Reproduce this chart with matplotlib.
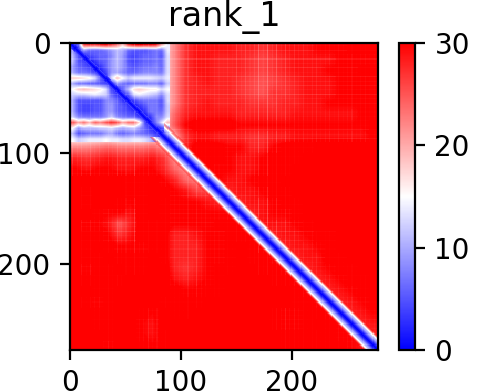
import numpy as np
import matplotlib
matplotlib.use('Agg')
import matplotlib.pyplot as plt

n_res = 278
x_ticks = [0, 100, 200]
y_ticks = [0, 100, 200]
cbar_ticks = [0, 10, 20, 30]
title = 'rank_1'

# whole map, one value per 10 residues (read by eye, 30+ is saturated red)
far_grid = [
    [30, 30, 30, 30, 30, 30, 30, 30, 17, 22, 27, 29, 29, 29, 29, 28, 28, 27, 28, 29, 29, 29, 30, 30, 30, 31, 31, 31],
    [30, 30, 30, 30, 30, 30, 30, 30, 17, 22, 27, 29, 29, 28, 28, 28, 27, 26, 27, 28, 29, 29, 29, 29, 30, 30, 30, 30],
    [30, 30, 30, 30, 30, 30, 30, 30, 17, 22, 27, 29, 29, 28, 28, 28, 27, 26, 27, 28, 29, 29, 29, 30, 30, 30, 31, 31],
    [30, 30, 30, 30, 30, 30, 30, 30, 17, 22, 27, 28, 29, 28, 28, 27, 26, 25, 26, 27, 28, 29, 29, 29, 30, 30, 30, 30],
    [30, 30, 30, 30, 30, 30, 30, 30, 17, 22, 27, 28, 28, 28, 28, 27, 26, 25, 27, 27, 28, 29, 29, 29, 30, 30, 30, 30],
    [30, 30, 30, 30, 30, 30, 30, 30, 17, 22, 27, 28, 29, 28, 28, 28, 27, 27, 27, 28, 28, 29, 29, 30, 30, 30, 30, 30],
    [30, 30, 30, 30, 30, 30, 30, 30, 18, 24, 28, 29, 29, 29, 29, 28, 28, 28, 28, 28, 29, 29, 29, 29, 29, 29, 30, 30],
    [30, 30, 30, 30, 30, 30, 30, 30, 18, 25, 30, 31, 31, 31, 31, 30, 30, 30, 30, 30, 30, 30, 30, 30, 30, 30, 30, 31],
    [14, 14, 14, 15, 14, 14, 14, 16, 18, 20, 27, 29, 29, 28, 28, 28, 27, 27, 28, 28, 29, 29, 29, 29, 29, 29, 29, 30],
    [22, 22, 23, 24, 23, 23, 23, 24, 22, 22, 28, 31, 31, 31, 30, 30, 28, 28, 30, 31, 31, 31, 32, 32, 32, 32, 32, 32],
    [28, 27, 28, 29, 28, 28, 28, 29, 27, 22, 27, 31, 31, 31, 30, 29, 29, 30, 31, 31, 31, 32, 32, 32, 32, 32, 32, 32],
    [30, 29, 30, 30, 29, 29, 30, 30, 28, 24, 22, 28, 31, 30, 30, 29, 29, 30, 31, 31, 32, 32, 32, 32, 32, 32, 32, 32],
    [32, 32, 32, 32, 32, 31, 31, 32, 30, 28, 24, 23, 29, 30, 29, 29, 30, 31, 31, 32, 32, 32, 32, 32, 32, 32, 32, 32],
    [32, 31, 32, 32, 32, 31, 31, 32, 32, 30, 29, 26, 26, 29, 28, 29, 29, 30, 31, 31, 32, 32, 32, 32, 32, 32, 32, 32],
    [32, 31, 32, 32, 31, 30, 31, 32, 31, 30, 30, 30, 29, 28, 29, 28, 29, 29, 30, 31, 31, 32, 32, 32, 32, 32, 32, 32],
    [32, 32, 31, 30, 30, 29, 31, 32, 31, 30, 30, 30, 30, 30, 30, 30, 28, 29, 30, 30, 31, 32, 32, 32, 32, 32, 32, 32],
    [32, 30, 30, 29, 25, 28, 31, 31, 31, 30, 30, 30, 30, 31, 31, 31, 29, 29, 29, 29, 30, 31, 32, 32, 32, 32, 32, 32],
    [32, 31, 31, 30, 27, 29, 31, 31, 31, 28, 28, 29, 30, 30, 31, 31, 31, 29, 28, 29, 29, 30, 31, 31, 32, 32, 32, 32],
    [32, 31, 32, 31, 30, 30, 30, 31, 31, 28, 28, 28, 30, 30, 31, 32, 31, 30, 29, 28, 29, 29, 30, 31, 32, 32, 32, 32],
    [32, 31, 31, 32, 31, 31, 31, 32, 31, 28, 28, 28, 30, 30, 31, 32, 31, 31, 30, 29, 28, 29, 29, 31, 31, 32, 32, 32],
    [32, 30, 31, 31, 32, 31, 31, 32, 32, 28, 27, 28, 30, 31, 31, 32, 32, 31, 31, 30, 29, 28, 29, 30, 31, 31, 32, 32],
    [32, 31, 31, 31, 31, 32, 32, 32, 32, 29, 28, 29, 30, 31, 32, 32, 32, 32, 31, 31, 30, 29, 28, 29, 30, 31, 31, 32],
    [32, 32, 31, 31, 32, 32, 32, 32, 32, 31, 30, 30, 31, 31, 32, 32, 32, 32, 32, 32, 31, 30, 29, 28, 29, 30, 31, 32],
    [32, 31, 30, 31, 32, 32, 32, 32, 31, 31, 31, 31, 32, 32, 32, 32, 32, 32, 32, 32, 31, 31, 30, 29, 28, 29, 30, 31],
    [32, 32, 31, 31, 32, 32, 31, 30, 32, 31, 31, 32, 32, 32, 32, 32, 32, 32, 31, 30, 30, 31, 31, 30, 29, 28, 29, 30],
    [32, 32, 31, 31, 32, 32, 30, 29, 32, 32, 32, 32, 32, 32, 32, 32, 32, 32, 31, 30, 30, 31, 32, 31, 30, 29, 28, 29],
    [32, 32, 32, 31, 32, 32, 30, 29, 31, 32, 32, 32, 32, 32, 32, 32, 32, 32, 32, 31, 31, 31, 31, 31, 30, 30, 29, 28],
    [32, 32, 32, 30, 32, 32, 31, 30, 31, 32, 32, 32, 32, 32, 32, 32, 32, 32, 32, 31, 31, 31, 31, 31, 31, 30, 29, 28],
]

# blue domain at the top left, one value per 5 residues
block_grid = [
    [2, 5, 26, 27, 26, 28, 29, 26, 23, 18, 26, 29, 30, 29, 29, 28, 20, 14],
    [9, 1, 9, 6, 6, 6, 7, 9, 11, 10, 6, 5, 5, 5, 6, 7, 6, 14],
    [11, 5, 1, 4, 5, 6, 6, 8, 11, 9, 5, 4, 5, 6, 6, 7, 5, 13],
    [11, 5, 4, 1, 3, 5, 6, 9, 11, 9, 5, 4, 5, 6, 6, 7, 6, 13],
    [9, 6, 5, 4, 1, 3, 6, 9, 11, 9, 6, 5, 6, 7, 7, 8, 6, 13],
    [10, 7, 7, 6, 4, 1, 4, 9, 10, 8, 6, 6, 7, 8, 8, 8, 7, 13],
    [18, 18, 17, 16, 13, 6, 2, 13, 19, 15, 12, 14, 14, 14, 14, 13, 12, 14],
    [10, 7, 7, 6, 6, 5, 4, 2, 9, 7, 6, 7, 7, 7, 8, 8, 6, 12],
    [15, 18, 19, 18, 17, 16, 13, 4, 2, 6, 11, 17, 18, 17, 16, 16, 13, 15],
    [12, 12, 12, 13, 14, 13, 12, 6, 3, 2, 5, 13, 14, 13, 12, 11, 8, 13],
    [10, 5, 5, 5, 5, 5, 8, 8, 6, 3, 1, 4, 6, 7, 7, 7, 5, 13],
    [10, 5, 4, 4, 5, 5, 8, 9, 6, 5, 3, 1, 3, 5, 7, 7, 5, 12],
    [10, 5, 4, 4, 5, 5, 8, 9, 6, 5, 4, 3, 1, 3, 7, 7, 6, 12],
    [12, 8, 7, 7, 7, 7, 9, 12, 8, 7, 6, 6, 3, 1, 3, 8, 8, 13],
    [25, 20, 23, 19, 24, 22, 25, 27, 25, 20, 23, 23, 17, 4, 2, 7, 13, 19],
    [15, 9, 11, 11, 11, 12, 12, 13, 11, 10, 11, 12, 9, 6, 3, 1, 4, 9],
    [11, 5, 6, 7, 7, 7, 9, 10, 7, 6, 7, 8, 7, 6, 5, 3, 1, 3],
    [15, 12, 13, 14, 14, 14, 15, 14, 14, 13, 13, 14, 14, 13, 11, 7, 3, 1],
]

# value against distance from the diagonal, per residue
band_profile = [0, 1, 2, 4, 6, 8, 10, 11, 13, 15, 18, 22, 26, 29]

# faint vertical and horizontal streaks, lightening per 4 residues
col_streak = [
    .14, .06, .10, .03, .12, .05, .08, .02, .10, .04, .13, .06, .08, .03, .20, .05, .07, .10, .03, .06,
    .03, .08, .02, .05, .04, .03, .10, .03, .13, .05, .08, .03, .06, .04, .02, .07, .03, .14, .06, .13,
    .05, .10, .22, .06, .25, .08, .20, .05, .16, .07, .10, .05, .08, .03, .06, .08, .03, .05, .07, .02,
    .06, .03, .05, .08, .02, .04, .06, .02, .03, .02,
]
row_streak = [
    .05, .10, .03, .14, .05, .12, .03, .13, .06, .10, .04, .14, .05, .08, .02, .02, .03, .02, .02, .12,
    .04, .10, .05, .06, .03, .05, .02, .04, .03, .05, .02, .06, .03, .04, .08, .03, .06, .04, .09, .03,
    .10, .05, .12, .04, .07, .03, .05, .02, .08, .03, .05, .02, .04, .03, .02, .05, .02, .03, .04, .02,
    .03, .02, .04, .02, .03, .02, .02, .03, .02, .01,
]

fig = plt.figure(figsize=(2.42, 1.96), dpi=200)
ax = fig.add_axes([70 / 484, 1 - 350 / 392, 308 / 484, 307 / 392])
cax = fig.add_axes([399 / 484, 1 - 350 / 392, 16 / 484, 307 / 392])

style = dict(cmap='bwr', vmin=0, vmax=30, aspect='auto', interpolation='bilinear')
im = ax.imshow(far_grid, extent=(0, n_res, n_res, 0), **style)
ax.imshow(block_grid, extent=(0, 90, 90, 0), **style)

ii, jj = np.mgrid[0:n_res, 0:n_res]

# thin white lines, one residue wide, for the streaks; saturated red stays clean
col_alpha = np.zeros(n_res)
row_alpha = np.zeros(n_res)
col_alpha[2::4] = col_streak[:len(col_alpha[2::4])]
row_alpha[2::4] = row_streak[:len(row_alpha[2::4])]
weave = 1 - (1 - row_alpha[:, None]) * (1 - col_alpha[None, :])
far_arr = np.array(far_grid, dtype=float)[ii // 10, jj // 10]
strength = np.clip((31.5 - far_arr) / 2.5, 0, 1)
strength[(ii < 90) & (jj < 90)] = 1
ax.imshow(np.ones((n_res, n_res)), extent=(0, n_res, n_res, 0), alpha=weave * strength, cmap='gray',
          vmin=0, vmax=1, aspect='auto', interpolation='nearest')

# diagonal band goes on top, only its core inside the blue domain
dist = np.abs(ii - jj)
profile = np.array(band_profile, dtype=float)
band = profile[np.minimum(dist, len(profile) - 1)]
alpha = np.clip((len(profile) - dist) / 4, 0, 1)
alpha[(ii < 85) & (jj < 85) & (dist > 3)] = 0
ax.imshow(band, extent=(0, n_res, n_res, 0), alpha=alpha, cmap='bwr', vmin=0, vmax=30,
          aspect='auto', interpolation='nearest')

ax.set_xlim(0, n_res)
ax.set_ylim(n_res, 0)
ax.set_xticks(x_ticks)
ax.set_yticks(y_ticks)
ax.set_title(title, fontsize=12)

fig.colorbar(im, cax=cax, ticks=cbar_ticks)

plt.savefig('out.png', dpi=200)
